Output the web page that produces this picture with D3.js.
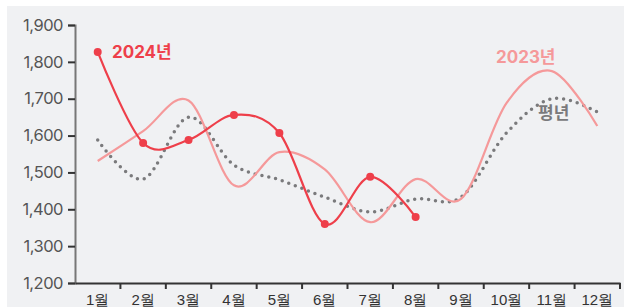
<!DOCTYPE html>
<html lang="ko">
<head>
<meta charset="UTF-8">
<script src="https://d3js.org/d3.v7.min.js"></script>
<style>
  body { margin: 0; background: #fff; }
  svg { display: block; font-family: Inter, "Noto Sans CJK KR", sans-serif; }
  .y-axis text { font-size: 16.5px; fill: #555; font-family: Inter, sans-serif; letter-spacing: -0.5px; }
  .x-axis text { font-size: 15px; fill: #333; }
</style>
</head>
<body>
<script>
// months on x axis
const months = ["1월", "2월", "3월", "4월", "5월", "6월", "7월", "8월", "9월", "10월", "11월", "12월"];
const yTicks = [1200, 1300, 1400, 1500, 1600, 1700, 1800, 1900];

// series values
const y2024 = [1827, 1580, 1588, 1656, 1607, 1360, 1488, 1379];
const y2023 = [1531, 1612, 1695, 1465, 1555, 1508, 1365, 1482, 1428, 1688, 1775, 1626];
const yAvg = [1588, 1482, 1650, 1520, 1480, 1433, 1393, 1428, 1433, 1607, 1700, 1664];

const width = 624, height = 307;
const svg = d3.select("body").append("svg")
  .attr("width", width)
  .attr("height", height);

// grey panel
svg.append("rect")
  .attr("x", 7).attr("y", 6)
  .attr("width", width - 7).attr("height", height - 6)
  .attr("fill", "#f0f1f3");

const x = d3.scaleBand().domain(months).range([75, 620]);
const y = d3.scaleLinear().domain([1200, 1900]).range([283, 25]);
const cx = m => x(m) + x.bandwidth() / 2;

// y axis
const yAxis = svg.append("g")
  .attr("class", "y-axis")
  .attr("transform", "translate(75,0)")
  .call(d3.axisLeft(y).tickValues(yTicks).tickFormat(d3.format(",")).tickSize(7).tickPadding(5));
yAxis.select(".domain").attr("stroke", "#777").attr("stroke-width", 2);
yAxis.selectAll(".tick line").attr("stroke", "#333").attr("stroke-width", 2);

// x axis
const xAxis = svg.append("g")
  .attr("class", "x-axis")
  .attr("transform", "translate(0,283)")
  .call(d3.axisBottom(x).tickSize(0).tickPadding(11));
xAxis.select(".domain").attr("stroke", "#333").attr("stroke-width", 2);
// boundary ticks between bands
xAxis.selectAll(".edge")
  .data(months.slice(1).concat(["end"]))
  .join("line")
  .attr("class", "edge")
  .attr("x1", (d, i) => i < 11 ? x(d) : 620)
  .attr("x2", (d, i) => i < 11 ? x(d) : 620)
  .attr("y1", 0).attr("y2", 6)
  .attr("stroke", "#333").attr("stroke-width", 2);

const line = d3.line()
  .x((d, i) => cx(months[i]))
  .y(d => y(d))
  .curve(d3.curveCardinal.tension(0));

// average (dotted)
svg.append("path")
  .datum(yAvg)
  .attr("d", line)
  .attr("fill", "none")
  .attr("stroke", "#7a7a7c")
  .attr("stroke-width", 3.5)
  .attr("stroke-linecap", "round")
  .attr("stroke-dasharray", "0 7");

// 2023
svg.append("path")
  .datum(y2023)
  .attr("d", line)
  .attr("fill", "none")
  .attr("stroke", "#f5999a")
  .attr("stroke-width", 2.2);

// 2024
svg.append("path")
  .datum(y2024)
  .attr("d", line)
  .attr("fill", "none")
  .attr("stroke", "#ee3f4a")
  .attr("stroke-width", 2.2);

svg.selectAll(".dot")
  .data(y2024)
  .join("circle")
  .attr("class", "dot")
  .attr("cx", (d, i) => cx(months[i]))
  .attr("cy", d => y(d))
  .attr("r", 4)
  .attr("fill", "#ee3f4a");

// series labels
const labels = [
  { text: "2024년", x: 112, y: 58, color: "#ee3f4a" },
  { text: "2023년", x: 496, y: 63, color: "#f5999a" },
  { text: "평년", x: 538, y: 119, color: "#7a7a7c" }
];
svg.selectAll(".lab")
  .data(labels)
  .join("text")
  .attr("class", "lab")
  .attr("x", d => d.x)
  .attr("y", d => d.y)
  .attr("fill", d => d.color)
  .attr("font-size", 17)
  .attr("font-weight", "bold")
  .text(d => d.text);
</script>
</body>
</html>
